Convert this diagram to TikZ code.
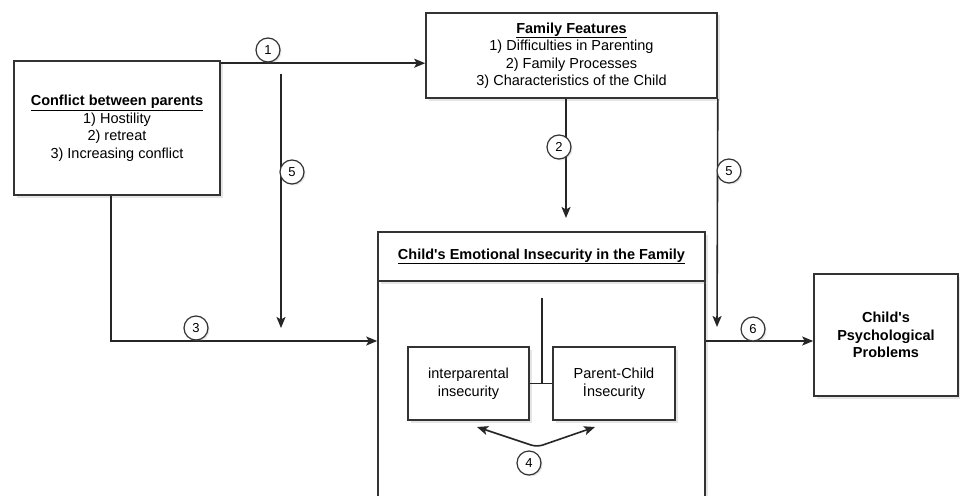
\documentclass[tikz,border=0pt]{standalone}
\usepackage{fontspec}
\setmainfont{Liberation Sans}
\usetikzlibrary{arrows.meta,shadows}

\tikzset{
	box/.style={draw=black!80, line width=1.6pt, fill=white, align=center, inner sep=0pt, drop shadow={opacity=0.2, shadow xshift=2.5pt, shadow yshift=-2.5pt}},
	num/.style={draw=black!80, line width=1.2pt, fill=white, circle, minimum size=24pt, inner sep=0pt, font=\fontsize{13}{13}\selectfont, drop shadow={opacity=0.2, shadow xshift=1.5pt, shadow yshift=-1.5pt}},
	link/.style={draw=black!85, line width=1.6pt},
	tip/.tip={Stealth[length=11pt,width=9pt,inset=2.5pt]},
	flow/.style={link, -tip},
	twoway/.style={link, tip-tip}
}

\begin{document}
\begin{tikzpicture}[x=1pt, y=-1pt, font=\fontsize{14.5}{17.5}\selectfont]
	\useasboundingbox (0,0) rectangle (960,495);
	\fill[white] (0,0) rectangle (960,495);
	\clip (0,0) rectangle (960,495);
	\draw (117,128) node[box, minimum width=206pt, minimum height=134pt](conflict){\underline{\textbf{Conflict between parents}}\\1) Hostility\\2) retreat\\3) Increasing conflict};
	\draw (571.5,55.5) node[box, minimum width=291pt, minimum height=85pt](family){\underline{\textbf{Family Features}}\\1) Difficulties in Parenting\\2) Family Processes\\3) Characteristics of the Child};
	\draw (541.5,401) node[box, minimum width=327pt, minimum height=240pt](emobody){};
	\draw (541.5,256.5) node[box, minimum width=327pt, minimum height=49pt](emohead){\underline{\textbf{Child\textquotesingle s Emotional Insecurity in the Family}}};
	\draw (468.5,383.5) node[box, minimum width=121pt, minimum height=73pt](interp){interparental\\insecurity};
	\draw (614,383.5) node[box, minimum width=122pt, minimum height=73pt](pchild){Parent-Child\\İnsecurity};
	\draw (886,335) node[box, minimum width=144pt, minimum height=122pt](psych){\textbf{Child\textquotesingle s}\\\textbf{Psychological}\\\textbf{Problems}};
	\coordinate (a1) at ([yshift=-3pt]conflict.north east);
	\draw[flow] (a1) -- (a1 -| family.west);
	\coordinate (l5a) at (281,74);
	\coordinate (l5b) at (281,328);
	\draw[flow] (l5a) -- (l5b);
	\coordinate (f2) at ([xshift=-5.5pt]family.south);
	\coordinate (e2) at (566,218);
	\draw[flow] (f2) -- (e2);
	\coordinate (r5) at (717,327);
	\draw[flow] (family.south east) -- (r5);
	\coordinate (j3) at (111,341);
	\draw[flow] (conflict.south -| j3) -- (j3) -- (j3 -| emobody.west);
	\draw[flow] (j3 -| emobody.east) -- (j3 -| psych.west);
	\coordinate (m4) at (542,298);
	\draw[link] (interp.east) -- (pchild.west);
	\draw[link] (m4) -- (m4 |- interp.east);
	\coordinate (a4) at (477,427);
	\coordinate (v4) at (537,447);
	\coordinate (b4) at (595,427);
	\draw[twoway, rounded corners=6pt] (a4) -- (v4) -- (b4);
	\draw (268,50) node[num](n1){1};
	\draw (559,147) node[num](n2){2};
	\draw (196,328) node[num](n3){3};
	\draw (529,463) node[num](n4){4};
	\draw (292,172) node[num](n5a){5};
	\draw (729,171) node[num](n5b){5};
	\draw (753,329) node[num](n6){6};
\end{tikzpicture}
\end{document}
